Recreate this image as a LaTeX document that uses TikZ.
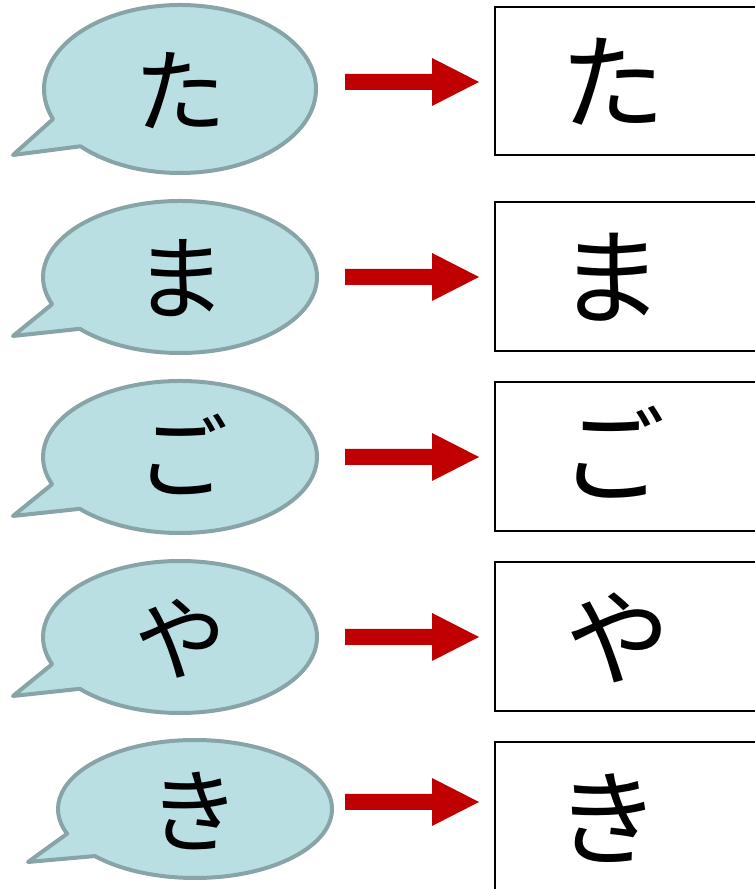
\documentclass[tikz,border=0pt]{standalone}
\usepackage{fontspec}
\newfontfamily\jpfont{Noto Sans CJK JP}
\definecolor{bubblefill}{HTML}{B9DFE3}
\definecolor{bubbleline}{HTML}{88A4A6}
\definecolor{arrowred}{HTML}{C00000}
\newcommand\mybubble[8]{%
  % #1 name, #2 cx, #3 cy, #4 rx, #5 ry, #6 tipx, #7 tipy, #8 char
  \coordinate (#1c) at (#2,#3);
  \coordinate (#1tip) at (#6,#7);
  \draw[bubblestyle] (#1c) ++(223:#4pt and #5pt)
    arc[start angle=223,end angle=561,x radius=#4pt,y radius=#5pt]
    -- (#1tip) -- cycle;
}
\newcommand\myarrow[2]{%
  % #1 name, #2 center y
  \coordinate (#1) at (345,#2);
  \fill[arrowred] (#1) ++(0,8) -- ++(87,0) -- ++(0,16) -- ++(47,-24)
    -- ++(-47,-24) -- ++(0,16) -- ++(-87,0) -- cycle;
}
\begin{document}
\begin{tikzpicture}[x=1pt,y=1pt,
  bubblestyle/.style={fill=bubblefill,draw=bubbleline,line width=4pt,line join=round},
  bubbletext/.style={font=\jpfont\fontsize{92}{92}\selectfont,inner sep=0pt},
  boxtext/.style={font=\jpfont\fontsize{105}{105}\selectfont,inner sep=0pt},
  answerbox/.style={draw=black,line width=2pt,fill=white}]
\useasboundingbox (0,0) rectangle (755,889);
\clip (0,0) rectangle (755,889);

% row 1
\mybubble{b1}{180}{800}{136}{84}{13}{734}{}
\node[bubbletext] (t1) at (180,798) {た};
\myarrow{a1}{807}
\draw[answerbox] (495,734) rectangle (775,882);
\node[boxtext] (r1) at (613,807) {た};

% row 2
\mybubble{b2}{180}{612}{137}{76}{13}{553}{}
\node[bubbletext] (t2) at (180,611) {ま};
\myarrow{a2}{612}
\draw[answerbox] (495,538) rectangle (775,687);
\node[boxtext] (r2) at (611,612) {ま};

% row 3
\mybubble{b3}{180}{432}{137}{76}{13}{373}{}
\node[bubbletext] (t3) at (182,435) {ご};
\myarrow{a3}{432}
\draw[answerbox] (495,358) rectangle (775,507);
\node[boxtext] (r3) at (613,437) {ご};

% row 4
\mybubble{b4}{180}{252}{137}{76}{13}{193}{}
\node[bubbletext] (t4) at (180,250) {や};
\myarrow{a4}{252}
\draw[answerbox] (495,178) rectangle (775,327);
\node[boxtext] (r4) at (618,251) {や};

% row 5
\mybubble{b5}{195}{80}{137}{69}{28}{27}{}
\node[bubbletext] (t5) at (194,78) {き};
\myarrow{a5}{87}
\draw[answerbox] (495,-20) rectangle (775,147);
\node[boxtext] (r5) at (608,71) {き};
\end{tikzpicture}
\end{document}
